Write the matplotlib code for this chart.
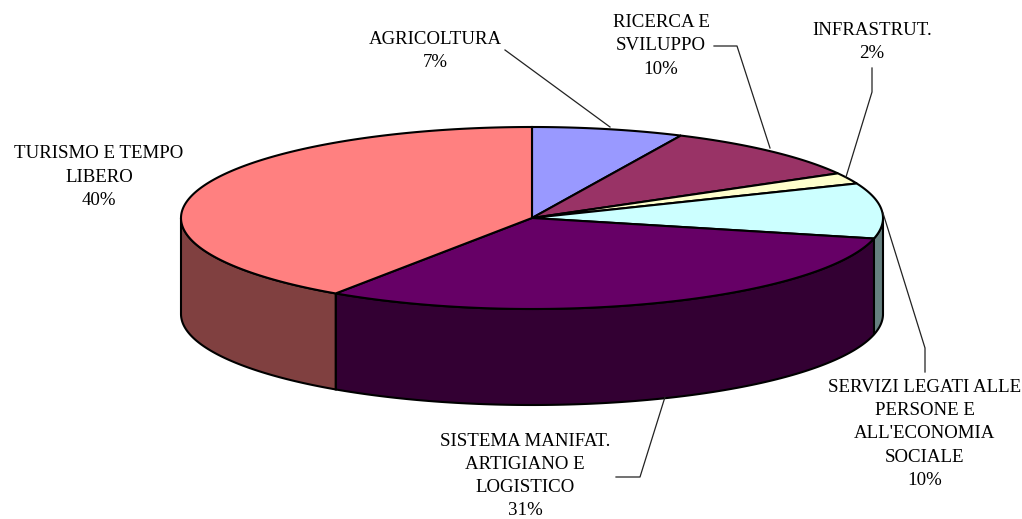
import numpy as np
import matplotlib
matplotlib.use('Agg')
import matplotlib.pyplot as plt
from matplotlib.patches import Polygon

# Slices, clockwise from 12 o'clock
labels = ['AGRICOLTURA', 'RICERCA E\nSVILUPPO', 'INFRASTRUT.',
          "SERVIZI LEGATI ALLE\nPERSONE E\nALL'ECONOMIA\nSOCIALE",
          'SISTEMA MANIFAT.\nARTIGIANO E\nLOGISTICO', 'TURISMO E TEMPO\nLIBERO']
values = [7, 10, 2, 10, 31, 40]
top_colors = ['#9999FF', '#993366', '#FFFFCC', '#CCFFFF', '#660066', '#FF8080']
side_colors = ['#4D4D80', '#4D1A33', '#808066', '#668080', '#330033', '#804040']

W, H = 1022, 519
cx, cy = 532, 218
rx, ry = 351, 91
depth = 96

label_pos = [(435, 51), (661, 46), (872, 42), (925, 434), (525, 476), (99, 177)]
leaders = [[(505, 50), (610, 127)],
           [(714, 46), (737, 46), (770, 148)],
           [(872, 68), (872, 92), (846, 177)],
           [(883, 213), (925, 348), (925, 372)],
           [(665, 397), (640, 477), (616, 477)]]


def ell(a):
    return cx + rx * np.sin(a), cy - ry * np.cos(a)


def view(a):
    # slight perspective of the tilted disc: front angles look a bit smaller
    return a - np.radians(1.1) * (1 - np.cos(a))


fig = plt.figure(figsize=(W / 100, H / 100), dpi=100)
ax = fig.add_axes([0, 0, 1, 1])
ax.set_xlim(0, W)
ax.set_ylim(H, 0)
ax.axis('off')

edges = view(np.cumsum([0] + values) / sum(values) * 2 * np.pi)

# side walls, only the front half (angles 90..270 deg) is visible
for i in range(len(values)):
    a0 = max(edges[i], np.pi / 2)
    a1 = min(edges[i + 1], 3 * np.pi / 2)
    if a1 <= a0:
        continue
    t = np.linspace(a0, a1, 120)
    x, y = ell(t)
    pts = list(zip(x, y)) + list(zip(x[::-1], y[::-1] + depth))
    ax.add_patch(Polygon(pts, closed=True, fc=side_colors[i], ec='black', lw=1.5, zorder=2))

# top faces
for i in range(len(values)):
    t = np.linspace(edges[i], edges[i + 1], 200)
    x, y = ell(t)
    pts = [(cx, cy)] + list(zip(x, y))
    ax.add_patch(Polygon(pts, closed=True, fc=top_colors[i], ec='black', lw=1.5, zorder=3))

for line in leaders:
    ax.plot([p[0] for p in line], [p[1] for p in line], color='#222222', lw=0.9, zorder=4)

for lab, v, pos in zip(labels, values, label_pos):
    ax.text(pos[0], pos[1], f'{lab}\n{v}%', ha='center', va='center', family='Liberation Serif',
            fontsize=13.6, linespacing=1.47, color='black', zorder=5)

fig.savefig('out.png', dpi=100, facecolor='white')
